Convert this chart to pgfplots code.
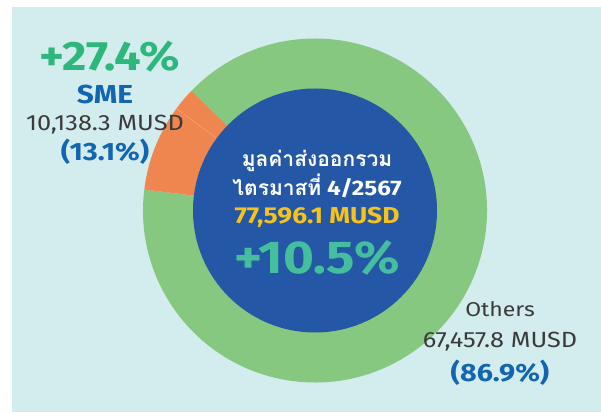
\documentclass[border=0pt]{standalone}
\usepackage{pgfplots}
\pgfplotsset{compat=1.18}
\usepackage{pgfplotstable}
\usetikzlibrary{calc}
\usepackage{fontspec}
\setmainfont{Fira Sans}[FakeStretch=1.15]
\newfontfamily\thaifont[Script=Thai]{Loma}

\definecolor{panelbg}{HTML}{D3ECEE}
\definecolor{ringgreen}{HTML}{86C880}
\definecolor{smeorange}{HTML}{EF8650}
\definecolor{discblue}{HTML}{2458A6}
\definecolor{growgreen}{HTML}{2DB77C}
\definecolor{shareblue}{HTML}{1266B1}
\definecolor{darktxt}{HTML}{3A3A3A}
\definecolor{totyellow}{HTML}{F7C21A}
\definecolor{totteal}{HTML}{45BE9E}

% value in MUSD, share in %, start/end angle of the slice as drawn
\pgfplotstableread{
cat    value    share start end
SME    10138.3  13.1  136   173
Others 67457.8  86.9  173   496
}\exporttable

\newcommand{\fs}[1]{\fontsize{#1}{#1}\selectfont}

\begin{document}
\begin{tikzpicture}
\begin{axis}[
    x=1pt, y=1pt,
    xmin=0, xmax=601, ymin=0, ymax=412,
    hide axis, clip=false,
]
% background
\fill[white] (axis cs:0,0) rectangle (axis cs:601,412);
\fill[panelbg] (axis cs:12,0) rectangle (axis cs:601,405);

\coordinate (c) at (axis cs:315,201.5);
\pgfplotstablegetelem{0}{start}\of\exporttable \let\aS\pgfplotsretval
\pgfplotstablegetelem{0}{end}\of\exporttable \let\aE\pgfplotsretval
\pgfplotstablegetelem{1}{start}\of\exporttable \let\bS\pgfplotsretval
\pgfplotstablegetelem{1}{end}\of\exporttable \let\bE\pgfplotsretval

% outer ring slices
\fill[ringgreen] (c) -- ($(c)+(\bS:172pt)$) arc[start angle=\bS, end angle=\bE, radius=172pt] -- cycle;
\fill[smeorange] (c) -- ($(c)+(\aS:172pt)$) arc[start angle=\aS, end angle=\aE, radius=172pt] -- cycle;
\draw[smeorange!70!white, line width=0.4pt] ($(c)+(143.7:122pt)$) -- ($(c)+(143.7:172pt)$);
% centre disc
\fill[discblue] (c) circle[radius=122];

% centre text
\node[white, font=\thaifont\bfseries\fs{21}] at (axis cs:317,251) {มูลค่าส่งออกรวม};
\node[white, font=\bfseries\fs{21}] at (axis cs:317,226) {{\thaifont ไตรมาสที่} 4/2567};
\node[totyellow, font=\bfseries\fs{23}] at (axis cs:317,195) {77,596.1 MUSD};
\node[totteal, font=\bfseries\fs{46}] at (axis cs:317,154) {+10.5\%};

% SME labels
\node[growgreen, font=\bfseries\fs{41}] at (axis cs:110,355) {+27.4\%};
\node[shareblue, font=\bfseries\fs{26}] at (axis cs:105,318) {SME};
\node[darktxt, font=\fs{22}] at (axis cs:105,287) {10,138.3 MUSD};
\node[shareblue, font=\bfseries\fs{25}] at (axis cs:105,260) {(13.1\%)};

% Others labels
\node[darktxt, font=\fs{20}] at (axis cs:500,103) {Others};
\node[darktxt, font=\fs{22}] at (axis cs:500,70) {67,457.8 MUSD};
\node[shareblue, font=\bfseries\fs{25}] at (axis cs:500,39) {(86.9\%)};
\end{axis}
\end{tikzpicture}
\end{document}
